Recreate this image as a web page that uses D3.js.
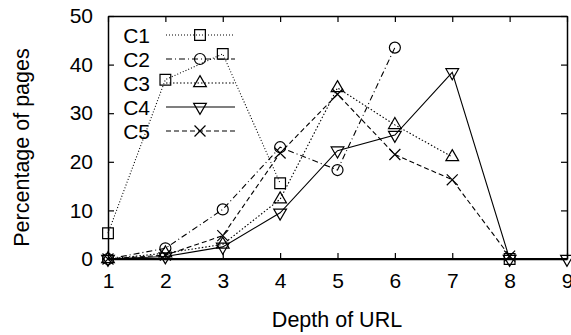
<!DOCTYPE html>
<html>
<head>
<meta charset="utf-8">
<script src="https://cdn.jsdelivr.net/npm/d3@7"></script>
<style>
  body { margin: 0; background: #fff; }
</style>
</head>
<body>
<div id="chart"></div>
<script>
// depth of URL on the x axis, percentage of pages per cluster
var depths = [1, 2, 3, 4, 5, 6, 7, 8, 9];
var c1 = [5.3, 36.9, 42.2, 15.6, null, null, null, 0, null];
var c2 = [0, 2.2, 10.2, 23, 18.3, 43.5, null, null, null];
var c3 = [0, 1.2, 3, 12.3, 35.2, 27.6, 21, null, null];
var c4 = [0, 0.5, 2.5, 9.5, 22.3, 25.5, 38.4, 0, 0];
var c5 = [0, 0.8, 4.8, 21.8, 33.9, 21.5, 16.3, 0.6, null];
var seriesNames = ['C1', 'C2', 'C3', 'C4', 'C5'];
var xTicks = [1, 2, 3, 4, 5, 6, 7, 8, 9];
var yTicks = [0, 10, 20, 30, 40, 50];

var width = 571, height = 335;
var margin = {left: 108, right: 4, top: 16, bottom: 76};
var w = width - margin.left - margin.right;
var h = height - margin.top - margin.bottom;

var x = d3.scaleLinear().domain([1, 9]).range([0, w]);
var y = d3.scaleLinear().domain([0, 50]).range([h, 0]);

var crossSymbol = {
  draw: function(ctx, size) {
    var r = Math.sqrt(size) / 2;
    ctx.moveTo(-r, -r); ctx.lineTo(r, r);
    ctx.moveTo(r, -r); ctx.lineTo(-r, r);
  }
};

var styles = [
  {data: c1, dash: '1,2', symbol: d3.symbolSquare, size: 115, rotate: 0},
  {data: c2, dash: '6,3,1,3', symbol: d3.symbolCircle, size: 95, rotate: 0},
  {data: c3, dash: '1.5,2', symbol: d3.symbolTriangle, size: 70, rotate: 0},
  {data: c4, dash: null, symbol: d3.symbolTriangle, size: 70, rotate: 180},
  {data: c5, dash: '5,3', symbol: crossSymbol, size: 120, rotate: 0}
];

var svg = d3.select('#chart').append('svg')
  .attr('width', width).attr('height', height)
  .attr('font-family', 'Liberation Sans, Arial, sans-serif');

var g = svg.append('g').attr('transform', 'translate(' + margin.left + ',' + margin.top + ')');

// frame with inner ticks on all four sides
g.append('g').attr('transform', 'translate(0,' + h + ')')
  .call(d3.axisBottom(x).tickValues(xTicks).tickSizeInner(-6).tickSizeOuter(0).tickPadding(14).tickFormat(d3.format('d')));
g.append('g').call(d3.axisTop(x).tickValues(xTicks).tickSizeInner(-6).tickSizeOuter(0).tickFormat(''));
g.append('g')
  .call(d3.axisLeft(y).tickValues(yTicks).tickSizeInner(-6).tickSizeOuter(0).tickPadding(15));
g.append('g').attr('transform', 'translate(' + w + ',0)')
  .call(d3.axisRight(y).tickValues(yTicks).tickSizeInner(-6).tickSizeOuter(0).tickFormat(''));

g.selectAll('.domain').attr('stroke', '#000').attr('stroke-width', 1.5);
g.selectAll('.tick line').attr('stroke', '#000').attr('stroke-width', 1.2);
g.selectAll('.tick text').attr('font-size', 21).attr('fill', '#000');

var line = d3.line()
  .defined(function(d) { return d != null; })
  .x(function(d, i) { return x(depths[i]); })
  .y(function(d) { return y(d); });

styles.forEach(function(s) {
  g.append('path').datum(s.data)
    .attr('d', line)
    .attr('fill', 'none')
    .attr('stroke', '#000')
    .attr('stroke-width', 1.1)
    .attr('stroke-dasharray', s.dash);
  g.selectAll(null).data(s.data.map(function(v, i) { return {v: v, i: i}; })
      .filter(function(d) { return d.v != null; }))
    .enter().append('path')
    .attr('d', d3.symbol().type(s.symbol).size(s.size))
    .attr('transform', function(d) {
      return 'translate(' + x(depths[d.i]) + ',' + y(d.v) + ') rotate(' + s.rotate + ')';
    })
    .attr('fill', 'none')
    .attr('stroke', '#000')
    .attr('stroke-width', 1.2);
});

// baseline is drawn over the data lines
g.append('line').attr('x1', 0).attr('x2', w).attr('y1', h).attr('y2', h)
  .attr('stroke', '#000').attr('stroke-width', 2);

// legend
var legend = g.append('g');
seriesNames.forEach(function(name, i) {
  var ly = 19 + i * 24;
  legend.append('text').attr('x', 42).attr('y', ly).attr('dy', '0.36em')
    .attr('text-anchor', 'end').attr('font-size', 21).text(name);
  legend.append('line').attr('x1', 58).attr('x2', 127).attr('y1', ly).attr('y2', ly)
    .attr('stroke', '#000').attr('stroke-width', 1.1)
    .attr('stroke-dasharray', styles[i].dash);
  legend.append('path')
    .attr('d', d3.symbol().type(styles[i].symbol).size(styles[i].size))
    .attr('transform', 'translate(92,' + ly + ') rotate(' + styles[i].rotate + ')')
    .attr('fill', 'none')
    .attr('stroke', '#000').attr('stroke-width', 1.2);
});

// axis titles
svg.append('text')
  .attr('transform', 'translate(29,' + (margin.top + h / 2 + 10) + ') rotate(-90)')
  .attr('text-anchor', 'middle').attr('font-size', 21.5).text('Percentage of pages');
svg.append('text')
  .attr('x', 337).attr('y', 327)
  .attr('text-anchor', 'middle').attr('font-size', 21.5).text('Depth of URL');
</script>
</body>
</html>
